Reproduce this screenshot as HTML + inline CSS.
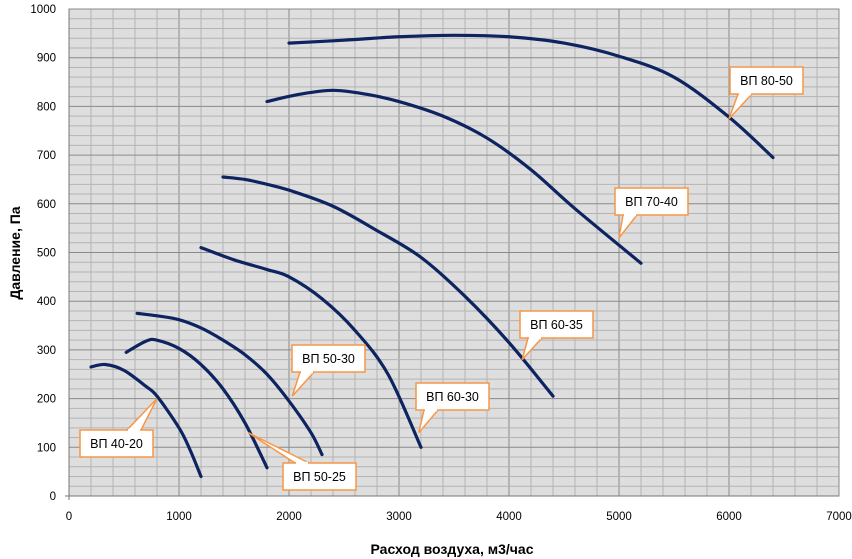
<!DOCTYPE html>
<html><head><meta charset="utf-8">
<style>
html,body{margin:0;padding:0;background:#fff;}
svg{display:block;font-family:"Liberation Sans","DejaVu Sans",sans-serif;}
</style></head>
<body>
<svg id="chart" width="852" height="559" viewBox="0 0 852 559">
<rect x="69" y="9" width="770" height="487" fill="#dedede"/>
<g id="grid"></g>
<g id="ticks"></g>
<g id="curves"></g>
<g id="callouts"></g>
<text x="20" y="253" transform="rotate(-90 20 253)" text-anchor="middle" font-size="14" font-weight="bold" fill="#000">Давление, Па</text>
<text x="452" y="554" text-anchor="middle" font-size="14" font-weight="bold" fill="#000">Расход воздуха, м3/час</text>
</svg>
<script>
const xTicks=[0,1000,2000,3000,4000,5000,6000,7000];
const yTicks=[0,100,200,300,400,500,600,700,800,900,1000];
const seriesNames=["ВП 40-20","ВП 50-25","ВП 50-30","ВП 60-30","ВП 60-35","ВП 70-40","ВП 80-50"];
const flow4020=[200,330,500,700,800,1000,1100,1200];
const pres4020=[265,270,258,225,205,140,95,40];
const flow5025=[520,700,800,1000,1200,1400,1600,1800];
const pres5025=[295,318,320,303,270,220,150,58];
const flow5030=[620,800,1000,1200,1400,1600,1800,2000,2200,2300];
const pres5030=[375,370,362,345,320,290,250,195,130,85];
const flow6030=[1200,1500,1800,2000,2300,2600,2900,3200];
const pres6030=[510,485,465,450,405,340,250,100];
const flow6035=[1400,1600,1800,2000,2400,2800,3200,3600,4000,4400];
const pres6035=[655,650,640,628,595,545,490,410,315,205];
const flow7040=[1800,2100,2400,2700,3000,3400,3800,4200,4600,5200];
const pres7040=[810,825,833,825,810,780,735,670,590,478];
const flow8050=[2000,2500,3000,3500,4000,4500,5000,5500,6000,6400];
const pres8050=[930,936,943,946,943,930,903,860,778,695];
const labelNames=["ВП 40-20","ВП 50-25","ВП 50-30","ВП 60-30","ВП 60-35","ВП 70-40","ВП 80-50"];
const labelPointFlow=[800,1630,2030,3180,4120,5000,6000];
const labelPointPres=[200,130,205,130,280,530,775];

const NS="http://www.w3.org/2000/svg";
const X0=69,X1=839,Y0=496,Y1=9;
const xs=v=>X0+(v/7000)*(X1-X0);
const ys=v=>Y0-(v/1000)*(Y0-Y1);
function mk(tag,attrs,parent){const e=document.createElementNS(NS,tag);for(const k in attrs)e.setAttribute(k,attrs[k]);parent.appendChild(e);return e;}
const grid=document.getElementById('grid'),ticks=document.getElementById('ticks'),curves=document.getElementById('curves'),callouts=document.getElementById('callouts');
for(let v=200;v<7000;v+=200){const l=mk('line',{x1:xs(v),x2:xs(v),y1:Y1,y2:Y0,stroke:v%1000===0?'#8a8a8a':'#b4b4b4','stroke-width':1},grid);

}
for(let v=20;v<1000;v+=20){const l=mk('line',{x1:X0,x2:X1,y1:ys(v),y2:ys(v),stroke:v%100===0?'#8a8a8a':'#b4b4b4','stroke-width':1},grid);

}
const fr=mk('rect',{x:X0,y:Y1,width:X1-X0,height:Y0-Y1,fill:'none',stroke:'#888'},grid);


const ax=mk('line',{x1:X0,x2:X0,y1:Y1,y2:Y0+4,stroke:'#777'},grid);


const axx=mk('line',{x1:X0-4,x2:X1,y1:Y0,y2:Y0,stroke:'#777'},grid);


xTicks.forEach(v=>{const t=mk('text',{x:xs(v),y:520,'text-anchor':'middle','font-size':11.5,fill:'#000'},ticks);t.textContent=v;

});
yTicks.forEach(v=>{const t=mk('text',{x:56,y:ys(v)+4,'text-anchor':'end','font-size':11.5,fill:'#000'},ticks);t.textContent=v;

});
function smooth(pts){let d=`M${pts[0][0]},${pts[0][1]}`;for(let i=0;i<pts.length-1;i++){const p0=pts[i-1]||pts[i],p1=pts[i],p2=pts[i+1],p3=pts[i+2]||p2;
const c1=[p1[0]+(p2[0]-p0[0])/6,p1[1]+(p2[1]-p0[1])/6],c2=[p2[0]-(p3[0]-p1[0])/6,p2[1]-(p3[1]-p1[1])/6];d+=` C${c1[0]},${c1[1]} ${c2[0]},${c2[1]} ${p2[0]},${p2[1]}`;}return d;}
const flows=[flow4020,flow5025,flow5030,flow6030,flow6035,flow7040,flow8050];
const press=[pres4020,pres5025,pres5030,pres6030,pres6035,pres7040,pres8050];
flows.forEach((f,i)=>{const pts=f.map((v,j)=>[xs(v),ys(press[i][j])]);const p=mk('path',{d:smooth(pts),fill:'none',stroke:'#0d2460','stroke-width':3.2,'stroke-linecap':'round','stroke-linejoin':'round'},curves);

});
const boxPos=[[80,430],[283,463],[292,345],[416,383],[520,311],[615,188],[730,67]];
labelNames.forEach((n,i)=>{const [bx,by]=boxPos[i];const w=73,h=27;const tx=xs(labelPointFlow[i]),ty=ys(labelPointPres[i]);
const g=mk('g',{},callouts);


const cx=bx+w/2,cy=by+h/2;let a,b;
if(ty<by){a=[bx+12,by];b=[bx+26,by];}else if(ty>by+h){if(tx<cx){a=[bx+8,by+h];b=[bx+22,by+h];}else{a=[bx+w-28,by+h];b=[bx+w-14,by+h];}}else{a=[bx,by+6];b=[bx,by+16];}
if(ty<by&&tx>bx+w){a=[bx+w-26,by];b=[bx+w-12,by];}
mk('polygon',{points:`${a[0]},${a[1]} ${tx},${ty} ${b[0]},${b[1]}`,fill:'#fff',stroke:'#f79646','stroke-width':1.5},g);
mk('rect',{x:bx,y:by,width:w,height:h,fill:'#fff',stroke:'#f79646','stroke-width':1.5},g);
mk('line',{x1:a[0]+1,y1:a[1],x2:b[0]-1,y2:b[1],stroke:'#fff','stroke-width':2.5},g);
const t=mk('text',{x:cx,y:cy+4.5,'text-anchor':'middle','font-size':12.5,fill:'#000'},g);t.textContent=n;});
</script>
</body></html>
